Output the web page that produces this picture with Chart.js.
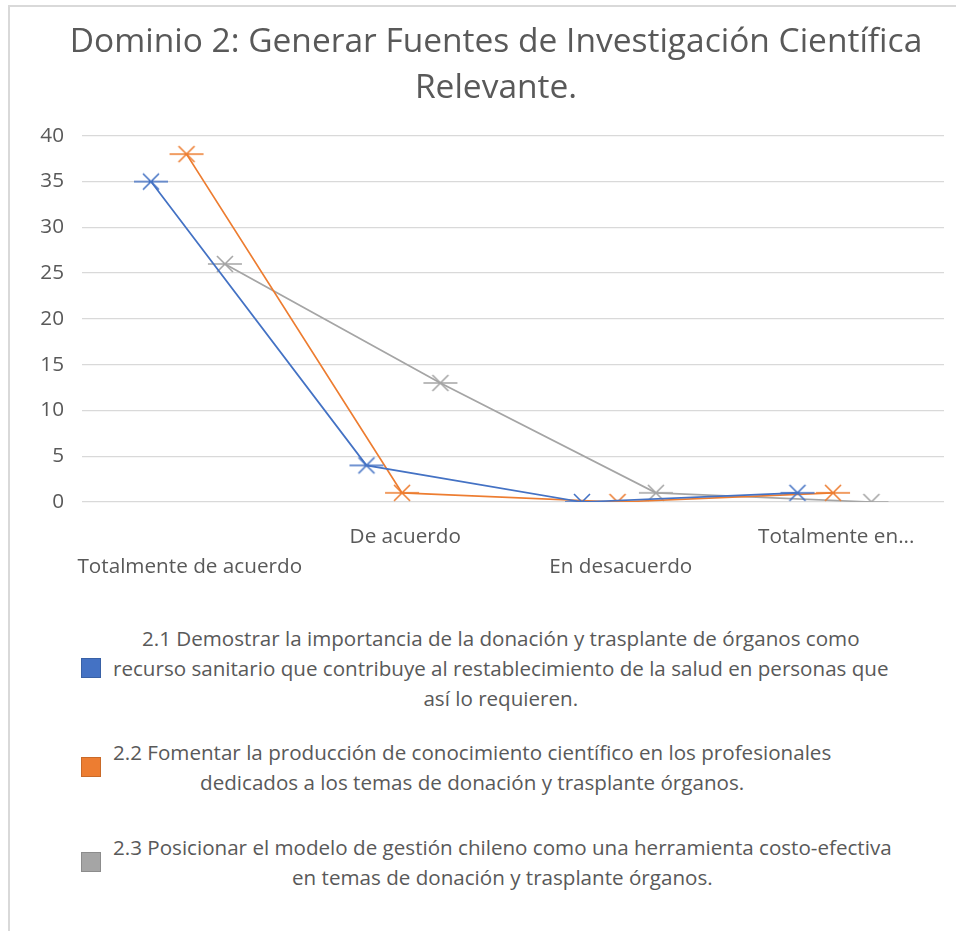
<!DOCTYPE html>
<html>
<head>
<meta charset="utf-8">
<script src="https://cdn.jsdelivr.net/npm/chart.js@4"></script>
<style>
  body { margin: 0; width: 956px; height: 931px; overflow: hidden; background: #fff; position: relative; font-family: "Open Sans", sans-serif; }
  #marco { position: absolute; left: 8px; top: 5px; width: 1000px; height: 1000px; border-left: 2px solid #d9d9d9; border-top: 2px solid #d9d9d9; }
  #caja { position: absolute; left: 8px; top: 0; width: 976px; height: 600px; }
  .item { position: absolute; left: 81px; display: flex; align-items: center; }
  .cuadro { width: 18px; height: 18px; border: 1px solid rgba(0,0,0,0.15); flex: none; }
  .texto { margin-left: 12px; width: max-content; text-align: center; font-size: 20.6px; line-height: 30px; color: #595959; }
</style>
</head>
<body>
<div id="marco"></div>
<div id="caja"><canvas id="grafico"></canvas></div>
<div id="leyenda"></div>
<script>
const categorias = [['', 'Totalmente de acuerdo'], ['De acuerdo', ''], ['', 'En desacuerdo'], ['Totalmente en...', '']];
const serie21 = [35, 4, 0, 1];
const serie22 = [38, 1, 0, 1];
const serie23 = [26, 13, 1, 0];
const nombres = [
    ['2.1 Demostrar la importancia de la donación y trasplante de órganos como', 'recurso sanitario que contribuye al restablecimiento de la salud en personas que', 'así lo requieren.'],
    ['2.2 Fomentar la producción de conocimiento científico en los profesionales', 'dedicados a los temas de donación y trasplante órganos.'],
    ['2.3 Posicionar el modelo de gestión chileno como una herramienta costo-efectiva', 'en temas de donación y trasplante órganos.']
];
const ticksY = [0, 5, 10, 15, 20, 25, 30, 35, 40];

const colores = ['#4472C4', '#ED7D31', '#A5A5A5'];
const desplazamiento = [-0.18, -0.015, 0.163]; // cada serie un poco corrida dentro de la categoria
const topesLeyenda = [623, 737, 832];

// marcador tipo excel: X con raya horizontal
function marcador(color) {
    const c = document.createElement('canvas');
    c.width = 36; c.height = 20;
    const g = c.getContext('2d');
    g.strokeStyle = color;
    g.lineWidth = 1.6;
    g.beginPath();
    g.moveTo(1, 10); g.lineTo(35, 10);
    g.moveTo(10, 2); g.lineTo(26, 18);
    g.moveTo(26, 2); g.lineTo(10, 18);
    g.stroke();
    return c;
}

const series = [serie21, serie22, serie23];
const datasets = series.map((valores, s) => ({
    label: nombres[s].join(' '),
    data: valores.map((v, i) => ({ x: i + 0.5 + desplazamiento[s], y: v })),
    borderColor: colores[s],
    backgroundColor: colores[s],
    borderWidth: 1.75,
    pointStyle: marcador(colores[s]),
    pointRadius: 9,
    tension: 0
}));

const ctx = document.getElementById('grafico').getContext('2d');
new Chart(ctx, {
    type: 'line',
    data: { datasets: datasets },
    options: {
        responsive: true,
        maintainAspectRatio: false,
        animation: false,
        layout: { padding: 0 },
        plugins: {
            legend: { display: false },
            tooltip: { enabled: false },
            title: {
                display: true,
                text: ['Dominio 2: Generar Fuentes de Investigación Científica', 'Relevante.'],
                color: '#595959',
                font: { family: 'Open Sans', size: 33.5, weight: 'normal', lineHeight: 1.37 },
                padding: { top: 20, bottom: 24 }
            }
        },
        scales: {
            x: {
                type: 'linear',
                min: 0,
                max: 4,
                afterBuildTicks: s => { s.ticks = categorias.map((c, i) => ({ value: i + 0.5 })); },
                afterFit: s => { s.height = 98; },
                grid: { display: false, drawTicks: false },
                border: { display: false },
                ticks: {
                    autoSkip: false,
                    maxRotation: 0,
                    padding: 20,
                    color: '#595959',
                    font: { family: 'Open Sans', size: 20.7, lineHeight: 1.45 },
                    callback: (v, i) => categorias[i]
                }
            },
            y: {
                min: 0,
                max: 40,
                afterBuildTicks: s => { s.ticks = ticksY.map(v => ({ value: v })); },
                afterFit: s => { s.width = 74; },
                grid: { color: '#d9d9d9', lineWidth: 1.3, drawTicks: false },
                border: { display: false },
                ticks: {
                    padding: 18,
                    color: '#595959',
                    font: { family: 'Open Sans', size: 20.7 }
                }
            },
            derecha: {
                position: 'right',
                display: true,
                grid: { display: false, drawTicks: false },
                border: { display: false },
                ticks: { display: false },
                afterFit: s => { s.width = 40; }
            }
        }
    }
});

// leyenda en html, con el texto partido como en el original
const leyenda = document.getElementById('leyenda');
nombres.forEach((lineas, s) => {
    const item = document.createElement('div');
    item.className = 'item';
    item.style.top = topesLeyenda[s] + 'px';
    const cuadro = document.createElement('div');
    cuadro.className = 'cuadro';
    cuadro.style.background = colores[s];
    const texto = document.createElement('div');
    texto.className = 'texto';
    texto.innerHTML = lineas.join('<br>');
    item.appendChild(cuadro);
    item.appendChild(texto);
    leyenda.appendChild(item);
});
</script>
</body>
</html>
